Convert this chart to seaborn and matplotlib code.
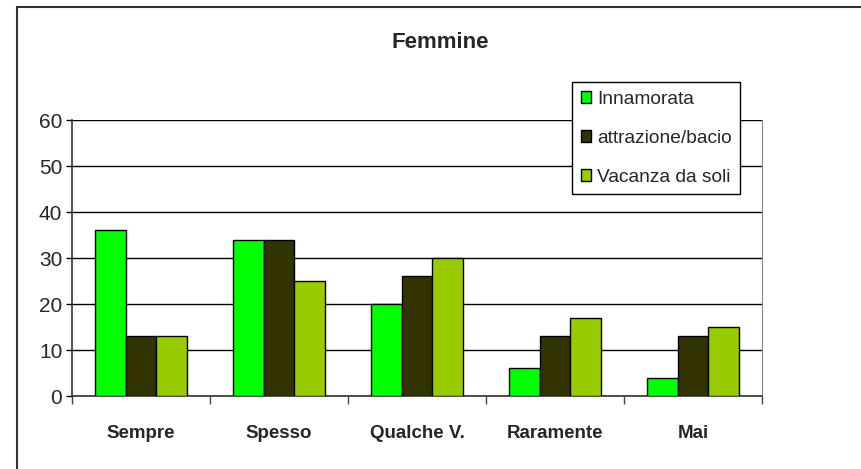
import matplotlib.pyplot as plt
import matplotlib.patches as mpatches
import pandas as pd
import seaborn as sns

categories = ['Sempre', 'Spesso', 'Qualche V.', 'Raramente', 'Mai']
series = ['Innamorata', 'attrazione/bacio', 'Vacanza da soli']
innamorata = [36, 34, 20, 6, 4]
attrazione = [13, 34, 26, 13, 13]
vacanza = [13, 25, 30, 17, 15]
colors = ['#00FF00', '#333300', '#99CC00']

rows = []
for name, vals in zip(series, [innamorata, attrazione, vacanza]):
    for cat, v in zip(categories, vals):
        rows.append({'categoria': cat, 'serie': name, 'valore': v})
df = pd.DataFrame(rows)

sns.set_style('white')
plt.rcParams['font.family'] = ['Liberation Sans', 'DejaVu Sans']

fig = plt.figure(figsize=(8.62, 4.69), dpi=100)
ax = fig.add_axes([72 / 862, 1 - 396 / 469, 690 / 862, 276 / 469])

sns.barplot(data=df, x='categoria', y='valore', hue='serie', order=categories,
            hue_order=series, palette=colors, width=0.66, gap=0,
            edgecolor='black', linewidth=1, saturation=1, ax=ax, zorder=3)

ax.set_ylim(0, 60)
ax.set_xlim(-0.5, 4.5)
ax.set_yticks(range(0, 61, 10))
ax.set_xlabel('')
ax.set_ylabel('')
ax.yaxis.grid(True, color='black', linewidth=1)
ax.set_axisbelow(True)
ax.tick_params(axis='y', labelsize=15, length=4, width=1, color='black', left=True, pad=3)
ax.tick_params(axis='x', which='major', length=0, pad=21)
for lab in ax.get_xticklabels():
    lab.set_fontweight('bold')
    lab.set_fontsize(13.5)
ax.set_xticks([i - 0.5 for i in range(6)], minor=True)
ax.tick_params(axis='x', which='minor', length=6, width=1, color='#444444', bottom=True)

for side in ['left', 'bottom']:
    ax.spines[side].set_color('#333333')
    ax.spines[side].set_linewidth(1.2)
ax.spines['right'].set_color('#888888')
ax.spines['top'].set_visible(False)

handles = [mpatches.Patch(facecolor=c, edgecolor='black', linewidth=1, label=s)
           for c, s in zip(colors, series)]
if ax.get_legend() is not None:
    ax.get_legend().remove()
leg = fig.legend(handles=handles, loc='upper left', bbox_to_anchor=(572 / 862, 1 - 82 / 469),
                 fontsize=13.8, frameon=True, fancybox=False, framealpha=1,
                 edgecolor='black', handlelength=0.55, handleheight=0.55, handletextpad=0.3,
                 labelspacing=1.15, borderpad=0.45, borderaxespad=0)
leg.get_frame().set_linewidth(1)

fig.text(440 / 862, 1 - 43 / 469, 'Femmine', ha='center', va='center',
         fontsize=16, fontweight='bold')

frame = mpatches.Rectangle((17 / 862, -0.1), 1.0, 1 - 7 / 469 + 0.1, transform=fig.transFigure,
                           fill=False, edgecolor='#333333', linewidth=1.5, clip_on=False)
fig.patches.append(frame)

fig.savefig('out.png', dpi=100, facecolor='white')
